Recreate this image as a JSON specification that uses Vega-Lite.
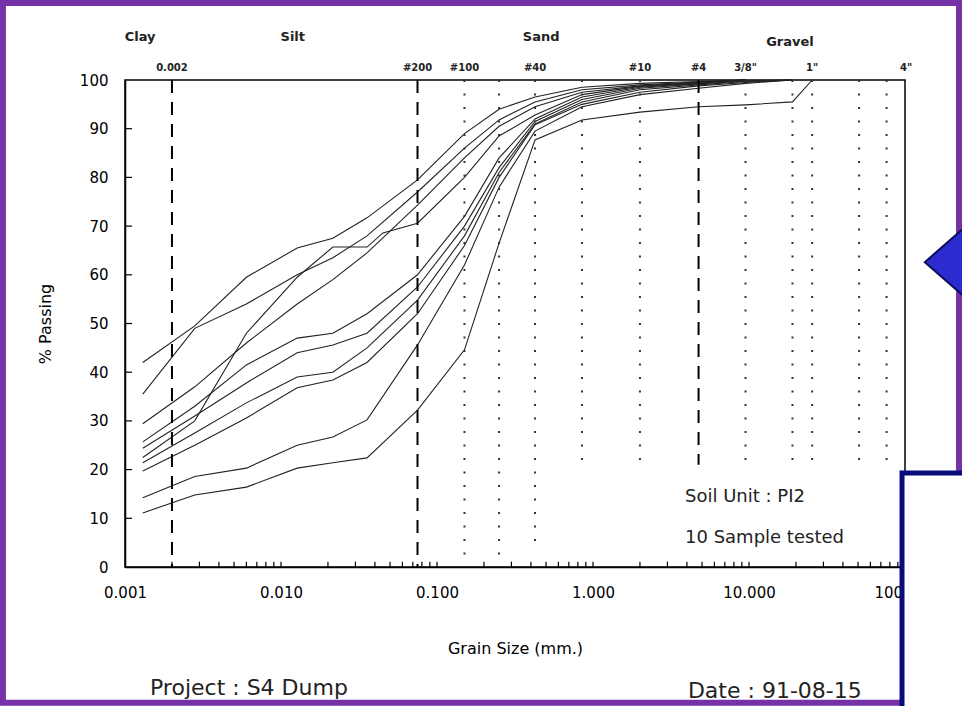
{
  "$schema": "https://vega.github.io/schema/vega-lite/v6.json",
  "width": 780,
  "height": 487,
  "autosize": {"type": "none"},
  "padding": {"left": 125, "top": 80, "right": 57, "bottom": 139},
  "background": "white",
  "config": {
    "view": {"stroke": "black", "strokeWidth": 1.5},
    "axis": {"domainColor": "black", "tickColor": "black", "labelColor": "black", "titleColor": "black", "labelFont": "DejaVu Sans", "titleFont": "DejaVu Sans", "grid": false},
    "text": {"font": "DejaVu Sans"}
  },
  "datasets": {
    "curves": [
      {"s":1,"d":0.0013,"p":42},{"s":1,"d":0.0028,"p":49.5},{"s":1,"d":0.006,"p":59.5},{"s":1,"d":0.0127,"p":65.5},{"s":1,"d":0.0215,"p":67.5},{"s":1,"d":0.0356,"p":71.7},{"s":1,"d":0.075,"p":79.5},{"s":1,"d":0.15,"p":89},{"s":1,"d":0.25,"p":94},{"s":1,"d":0.425,"p":96.5},{"s":1,"d":0.85,"p":98.5},{"s":1,"d":2,"p":99.3},{"s":1,"d":4.75,"p":99.7},{"s":1,"d":9.5,"p":100},
      {"s":2,"d":0.0013,"p":35.5},{"s":2,"d":0.0028,"p":49},{"s":2,"d":0.006,"p":54},{"s":2,"d":0.0127,"p":60},{"s":2,"d":0.0215,"p":63.5},{"s":2,"d":0.0356,"p":68},{"s":2,"d":0.075,"p":77},{"s":2,"d":0.15,"p":86},{"s":2,"d":0.25,"p":91.8},{"s":2,"d":0.425,"p":95.5},{"s":2,"d":0.85,"p":98},{"s":2,"d":2,"p":99},{"s":2,"d":4.75,"p":99.6},{"s":2,"d":9.5,"p":100},
      {"s":3,"d":0.0013,"p":29.4},{"s":3,"d":0.0028,"p":37},{"s":3,"d":0.006,"p":46},{"s":3,"d":0.0127,"p":54},{"s":3,"d":0.0215,"p":59},{"s":3,"d":0.0356,"p":64.5},{"s":3,"d":0.075,"p":74.3},{"s":3,"d":0.15,"p":84},{"s":3,"d":0.25,"p":90.5},{"s":3,"d":0.425,"p":94.5},{"s":3,"d":0.85,"p":97.5},{"s":3,"d":2,"p":98.8},{"s":3,"d":4.75,"p":99.5},{"s":3,"d":9.5,"p":100},
      {"s":4,"d":0.0013,"p":22.5},{"s":4,"d":0.0028,"p":30},{"s":4,"d":0.006,"p":48},{"s":4,"d":0.0127,"p":59.5},{"s":4,"d":0.0215,"p":65.7},{"s":4,"d":0.0356,"p":65.7},{"s":4,"d":0.045,"p":68.6},{"s":4,"d":0.075,"p":70.6},{"s":4,"d":0.15,"p":80},{"s":4,"d":0.25,"p":88.5},{"s":4,"d":0.425,"p":92.8},{"s":4,"d":0.85,"p":97},{"s":4,"d":2,"p":98.7},{"s":4,"d":4.75,"p":99.4},{"s":4,"d":9.5,"p":100},
      {"s":5,"d":0.0013,"p":25.7},{"s":5,"d":0.0028,"p":33},{"s":5,"d":0.006,"p":41.5},{"s":5,"d":0.0127,"p":47},{"s":5,"d":0.0215,"p":48},{"s":5,"d":0.0356,"p":52},{"s":5,"d":0.075,"p":60},{"s":5,"d":0.15,"p":72},{"s":5,"d":0.25,"p":84},{"s":5,"d":0.425,"p":92},{"s":5,"d":0.85,"p":96.5},{"s":5,"d":2,"p":98.5},{"s":5,"d":4.75,"p":99.3},{"s":5,"d":9.5,"p":100},
      {"s":6,"d":0.0013,"p":24.4},{"s":6,"d":0.0028,"p":31},{"s":6,"d":0.006,"p":37.8},{"s":6,"d":0.0127,"p":44},{"s":6,"d":0.0215,"p":45.6},{"s":6,"d":0.0356,"p":48},{"s":6,"d":0.075,"p":57.5},{"s":6,"d":0.15,"p":70},{"s":6,"d":0.25,"p":82},{"s":6,"d":0.425,"p":91.5},{"s":6,"d":0.85,"p":96},{"s":6,"d":2,"p":98.3},{"s":6,"d":4.75,"p":99.2},{"s":6,"d":9.5,"p":99.8},{"s":6,"d":19,"p":100},
      {"s":7,"d":0.0013,"p":21.4},{"s":7,"d":0.0028,"p":27.5},{"s":7,"d":0.006,"p":33.7},{"s":7,"d":0.0127,"p":39},{"s":7,"d":0.0215,"p":40},{"s":7,"d":0.0356,"p":45},{"s":7,"d":0.075,"p":54.8},{"s":7,"d":0.15,"p":68},{"s":7,"d":0.25,"p":81},{"s":7,"d":0.425,"p":91},{"s":7,"d":0.85,"p":95.5},{"s":7,"d":2,"p":98},{"s":7,"d":4.75,"p":99},{"s":7,"d":9.5,"p":99.7},{"s":7,"d":19,"p":100},
      {"s":8,"d":0.0013,"p":19.7},{"s":8,"d":0.0028,"p":25},{"s":8,"d":0.006,"p":30.6},{"s":8,"d":0.0127,"p":36.8},{"s":8,"d":0.0215,"p":38.4},{"s":8,"d":0.0356,"p":42},{"s":8,"d":0.075,"p":52},{"s":8,"d":0.15,"p":66},{"s":8,"d":0.25,"p":80},{"s":8,"d":0.425,"p":90.8},{"s":8,"d":0.85,"p":95},{"s":8,"d":2,"p":97.5},{"s":8,"d":4.75,"p":98.8},{"s":8,"d":9.5,"p":99.5},{"s":8,"d":19,"p":100},
      {"s":9,"d":0.0013,"p":14.2},{"s":9,"d":0.0028,"p":18.6},{"s":9,"d":0.006,"p":20.3},{"s":9,"d":0.0127,"p":25},{"s":9,"d":0.0215,"p":26.7},{"s":9,"d":0.0356,"p":30.2},{"s":9,"d":0.075,"p":45.6},{"s":9,"d":0.15,"p":62},{"s":9,"d":0.25,"p":78},{"s":9,"d":0.425,"p":89.5},{"s":9,"d":0.85,"p":94.5},{"s":9,"d":2,"p":97},{"s":9,"d":4.75,"p":98.3},{"s":9,"d":9.5,"p":99.3},{"s":9,"d":19,"p":100},
      {"s":10,"d":0.0013,"p":11.1},{"s":10,"d":0.0028,"p":14.8},{"s":10,"d":0.006,"p":16.4},{"s":10,"d":0.0127,"p":20.3},{"s":10,"d":0.0215,"p":21.4},{"s":10,"d":0.0356,"p":22.4},{"s":10,"d":0.075,"p":32.2},{"s":10,"d":0.15,"p":44.6},{"s":10,"d":0.25,"p":66.5},{"s":10,"d":0.425,"p":87.7},{"s":10,"d":0.85,"p":91.8},{"s":10,"d":2,"p":93.4},{"s":10,"d":4.75,"p":94.5},{"s":10,"d":9.5,"p":94.9},{"s":10,"d":19,"p":95.5},{"s":10,"d":25.4,"p":100}
    ],
    "dashed": [
      {"d":0.002,"lo":0,"hi":100},{"d":0.075,"lo":0,"hi":100},{"d":4.75,"lo":21,"hi":100}
    ],
    "dotted": [
      {"d":0.15,"lo":1,"hi":100},{"d":0.25,"lo":2,"hi":100},{"d":0.425,"lo":4,"hi":100},{"d":0.85,"lo":21,"hi":100},{"d":2,"lo":21,"hi":100},{"d":9.5,"lo":21,"hi":100},{"d":19,"lo":21,"hi":100},{"d":25.4,"lo":21,"hi":100},{"d":50.8,"lo":21,"hi":100},{"d":76.2,"lo":21,"hi":100}
    ],
    "xticks": [
      {"d":0.002},{"d":0.003},{"d":0.004},{"d":0.005},{"d":0.006},{"d":0.007},{"d":0.008},{"d":0.009},{"d":0.01},
      {"d":0.02},{"d":0.03},{"d":0.04},{"d":0.05},{"d":0.06},{"d":0.07},{"d":0.08},{"d":0.09},{"d":0.1},
      {"d":0.2},{"d":0.3},{"d":0.4},{"d":0.5},{"d":0.6},{"d":0.7},{"d":0.8},{"d":0.9},{"d":1},
      {"d":2},{"d":3},{"d":4},{"d":5},{"d":6},{"d":7},{"d":8},{"d":9},{"d":10},
      {"d":20},{"d":30},{"d":40},{"d":50},{"d":60},{"d":70},{"d":80},{"d":90}
    ],
    "yticks": [
      {"p":10},{"p":20},{"p":30},{"p":40},{"p":50},{"p":60},{"p":70},{"p":80},{"p":90}
    ],
    "sieves": [
      {"d":0.002,"y":102.4,"t":"0.002"},{"d":0.075,"y":102.4,"t":"#200"},{"d":0.15,"y":102.4,"t":"#100"},{"d":0.425,"y":102.4,"t":"#40"},{"d":2,"y":102.4,"t":"#10"},{"d":4.75,"y":102.4,"t":"#4"},{"d":9.5,"y":102.4,"t":"3/8\""},{"d":25.4,"y":102.4,"t":"1\""},{"d":101.6,"y":102.4,"t":"4\""}
    ],
    "zones": [
      {"d":0.00125,"y":108.8,"t":"Clay"},{"d":0.0119,"y":108.8,"t":"Silt"},{"d":0.465,"y":108.8,"t":"Sand"},{"d":18.3,"y":107.8,"t":"Gravel"}
    ],
    "notes": [
      {"d":3.89,"y":14.4,"t":"Soil Unit : PI2"},{"d":3.89,"y":6.0,"t":"10 Sample tested"}
    ],
    "footer": [
      {"d":0.001446,"y":-24.8,"t":"Project : S4 Dump"},{"d":4.06,"y":-25.4,"t":"Date : 91-08-15"}
    ],
    "frame": [{"x1":0.000165,"x2":222,"y1":-27.9,"y2":115.8}],
    "box": [{"x1":95.7,"x2":400,"y1":-40,"y2":19.3}],
    "pointer": [{"d":180,"y":62.6}]
  },
  "layer": [
    {
      "data": {"name": "curves"},
      "mark": {"type": "line", "color": "#222", "strokeWidth": 1.1},
      "encoding": {
        "x": {
          "field": "d", "type": "quantitative",
          "scale": {"type": "log", "domain": [0.001, 100], "nice": false},
          "axis": {
            "values": [0.001,0.01,0.1,1,10,100],
            "format": ".3f",
            "labelOverlap": false, "labelFlush": false,
            "ticks": false, "domainWidth": 1.5,
            "labelPadding": 18, "labelFontSize": 15,
            "title": "Grain Size (mm.)", "titleFontSize": 16, "titleFontWeight": "normal", "titlePadding": 40
          }
        },
        "y": {
          "field": "p", "type": "quantitative",
          "scale": {"domain": [0, 100], "nice": false},
          "axis": {
            "values": [0,10,20,30,40,50,60,70,80,90,100],
            "ticks": false, "domainWidth": 1.5,
            "labelPadding": 17, "labelFontSize": 15,
            "title": "% Passing", "titleFontSize": 16, "titleFontWeight": "normal", "titlePadding": 26
          }
        },
        "detail": {"field": "s"}
      }
    },
    {
      "data": {"name": "xticks"},
      "mark": {"type": "rule", "color": "black", "strokeWidth": 1.2},
      "encoding": {
        "x": {"field": "d", "type": "quantitative", "scale": {"type": "log", "domain": [0.001, 100], "nice": false}},
        "y": {"datum": 0, "type": "quantitative", "scale": {"domain": [0, 100], "nice": false}},
        "y2": {"datum": 1.1}
      }
    },
    {
      "data": {"name": "yticks"},
      "mark": {"type": "rule", "color": "black", "strokeWidth": 1.2},
      "encoding": {
        "y": {"field": "p", "type": "quantitative", "scale": {"domain": [0, 100], "nice": false}},
        "x": {"datum": 0.001, "type": "quantitative", "scale": {"type": "log", "domain": [0.001, 100], "nice": false}},
        "x2": {"datum": 0.00111}
      }
    },
    {
      "data": {"name": "frame"},
      "mark": {"type": "rect", "fillOpacity": 0, "stroke": "#7432A6", "strokeWidth": 6},
      "encoding": {
        "x": {"field": "x1", "type": "quantitative", "scale": {"type": "log", "domain": [0.001, 100], "nice": false}},
        "x2": {"field": "x2"},
        "y": {"field": "y1", "type": "quantitative", "scale": {"domain": [0, 100], "nice": false}},
        "y2": {"field": "y2"}
      }
    },
    {
      "data": {"name": "dashed"},
      "mark": {"type": "rule", "color": "black", "strokeWidth": 2, "strokeDash": [13, 9]},
      "encoding": {
        "x": {"field": "d", "type": "quantitative", "scale": {"type": "log", "domain": [0.001, 100], "nice": false}},
        "y": {"field": "hi", "type": "quantitative", "scale": {"domain": [0, 100], "nice": false}},
        "y2": {"field": "lo"}
      }
    },
    {
      "data": {"name": "dotted"},
      "mark": {"type": "rule", "color": "#333", "strokeWidth": 2, "strokeDash": [2, 11.5]},
      "encoding": {
        "x": {"field": "d", "type": "quantitative", "scale": {"type": "log", "domain": [0.001, 100], "nice": false}},
        "y": {"field": "hi", "type": "quantitative", "scale": {"domain": [0, 100], "nice": false}},
        "y2": {"field": "lo"}
      }
    },
    {
      "data": {"name": "sieves"},
      "mark": {"type": "text", "fontSize": 10, "fontWeight": "bold", "color": "#222", "align": "center", "baseline": "middle"},
      "encoding": {
        "x": {"field": "d", "type": "quantitative", "scale": {"type": "log", "domain": [0.001, 100], "nice": false}},
        "y": {"field": "y", "type": "quantitative", "scale": {"domain": [0, 100], "nice": false}},
        "text": {"field": "t"}
      }
    },
    {
      "data": {"name": "zones"},
      "mark": {"type": "text", "fontSize": 13, "fontWeight": "bold", "color": "#222", "align": "center", "baseline": "middle"},
      "encoding": {
        "x": {"field": "d", "type": "quantitative", "scale": {"type": "log", "domain": [0.001, 100], "nice": false}},
        "y": {"field": "y", "type": "quantitative", "scale": {"domain": [0, 100], "nice": false}},
        "text": {"field": "t"}
      }
    },
    {
      "data": {"name": "notes"},
      "mark": {"type": "text", "fontSize": 18, "color": "#222", "align": "left", "baseline": "middle"},
      "encoding": {
        "x": {"field": "d", "type": "quantitative", "scale": {"type": "log", "domain": [0.001, 100], "nice": false}},
        "y": {"field": "y", "type": "quantitative", "scale": {"domain": [0, 100], "nice": false}},
        "text": {"field": "t"}
      }
    },
    {
      "data": {"name": "footer"},
      "mark": {"type": "text", "fontSize": 22, "color": "#222", "align": "left", "baseline": "middle"},
      "encoding": {
        "x": {"field": "d", "type": "quantitative", "scale": {"type": "log", "domain": [0.001, 100], "nice": false}},
        "y": {"field": "y", "type": "quantitative", "scale": {"domain": [0, 100], "nice": false}},
        "text": {"field": "t"}
      }
    },
    {
      "data": {"name": "box"},
      "mark": {"type": "rect", "fill": "white", "stroke": "#0B0B7A", "strokeWidth": 5},
      "encoding": {
        "x": {"field": "x1", "type": "quantitative", "scale": {"type": "log", "domain": [0.001, 100], "nice": false}},
        "x2": {"field": "x2"},
        "y": {"field": "y1", "type": "quantitative", "scale": {"domain": [0, 100], "nice": false}},
        "y2": {"field": "y2"}
      }
    },
    {
      "data": {"name": "pointer"},
      "mark": {"type": "point", "shape": "M 1 -1.75 L -1 0 L 1 1.75 Z", "size": 1600, "filled": true, "fill": "#2B2BCF", "stroke": "#0D0D5E", "strokeWidth": 2, "opacity": 1},
      "encoding": {
        "x": {"field": "d", "type": "quantitative", "scale": {"type": "log", "domain": [0.001, 100], "nice": false}},
        "y": {"field": "y", "type": "quantitative", "scale": {"domain": [0, 100], "nice": false}}
      }
    }
  ]
}
